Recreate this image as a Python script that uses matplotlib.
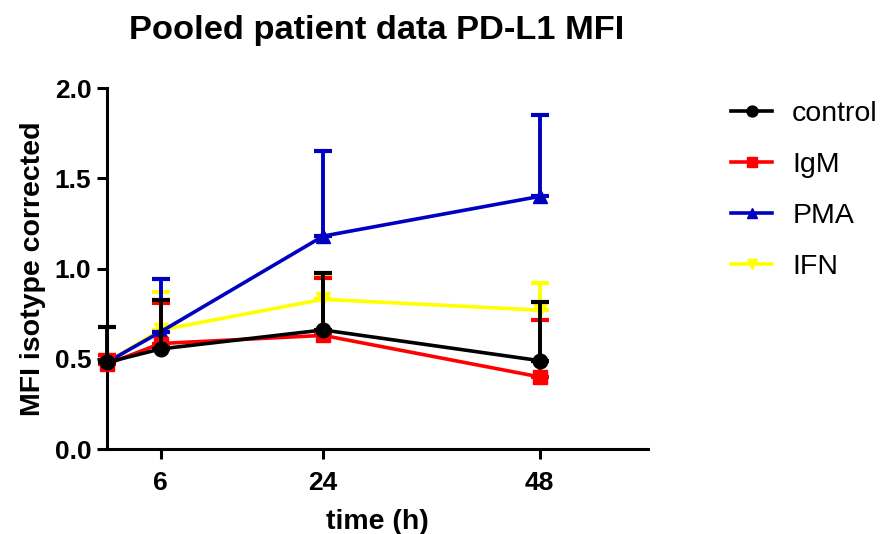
import matplotlib.pyplot as plt

plt.rcParams['font.family'] = ['Liberation Sans', 'DejaVu Sans']

# Data
times = [0, 6, 24, 48]
series_names = ['control', 'IgM', 'PMA', 'IFN']
control_mean = [0.48, 0.555, 0.66, 0.49]
control_top = [0.675, 0.825, 0.975, 0.815]
igm_mean = [0.47, 0.585, 0.63, 0.40]
igm_top = [0.52, 0.81, 0.95, 0.715]
pma_mean = [0.48, 0.65, 1.18, 1.40]
pma_top = [0.52, 0.94, 1.65, 1.85]
ifn_mean = [0.48, 0.66, 0.83, 0.77]
ifn_top = [0.52, 0.87, 0.96, 0.92]

means = [control_mean, igm_mean, pma_mean, ifn_mean]
tops = [control_top, igm_top, pma_top, ifn_top]
colors = ['#000000', '#FF0000', '#0000C0', '#FFFF00']
markers = ['o', 's', '^', 'v']
zorders = [8, 7, 6, 5]

fig = plt.figure(figsize=(8.81, 5.34), dpi=100)
ax = fig.add_axes([0.121, 0.159, 0.6145, 0.676])

LW = 2.6
handles = []
for name, m, t, c, mk, z in zip(series_names, means, tops, colors, markers, zorders):
    upper = [tt - mm for tt, mm in zip(t, m)]
    lower = [0] * len(m)
    eb = ax.errorbar(times, m, yerr=[lower, upper], fmt='none', ecolor=c,
                     elinewidth=2.8, capsize=6.8, capthick=3.0, zorder=z)
    for cap in eb[1]:
        cap.set_clip_on(False)
    for col in eb[2]:
        col.set_clip_on(False)
    h, = ax.plot(times, m, color=c, lw=LW, marker=mk, markersize=10.5,
                 markeredgecolor=c, markerfacecolor=c, zorder=z + 0.5,
                 label=name, clip_on=False)
    handles.append(h)

ax.set_xlim(0, 60)
ax.set_ylim(0, 2.0)
ax.set_xticks([6, 24, 48])
ax.set_yticks([0.0, 0.5, 1.0, 1.5, 2.0])
ax.set_yticklabels(['0.0', '0.5', '1.0', '1.5', '2.0'])

for s in ['top', 'right']:
    ax.spines[s].set_visible(False)
for s in ['left', 'bottom']:
    ax.spines[s].set_linewidth(2.2)
ax.tick_params(axis='both', width=2.2, length=7, labelsize=19)
ax.tick_params(axis='y', pad=4)
ax.tick_params(axis='x', pad=9)
for lab in ax.get_xticklabels() + ax.get_yticklabels():
    lab.set_fontweight('bold')

ax.set_xlabel('time (h)', fontsize=20.5, fontweight='bold', labelpad=10)
ax.set_ylabel('MFI isotype corrected', fontsize=20.5, fontweight='bold', labelpad=6)
fig.text(377 / 881, 1 - 39 / 534, 'Pooled patient data PD-L1 MFI', fontsize=24.8,
         fontweight='bold', ha='center', va='baseline')

leg = fig.legend(handles=handles, loc='upper left', bbox_to_anchor=(731 / 881, 1 - 101 / 534),
                 frameon=False, fontsize=20.5, handlelength=1.45, labelspacing=0.88,
                 handletextpad=0.7, borderpad=0, borderaxespad=0, markerscale=0.75)

fig.savefig('out.png', dpi=100)
